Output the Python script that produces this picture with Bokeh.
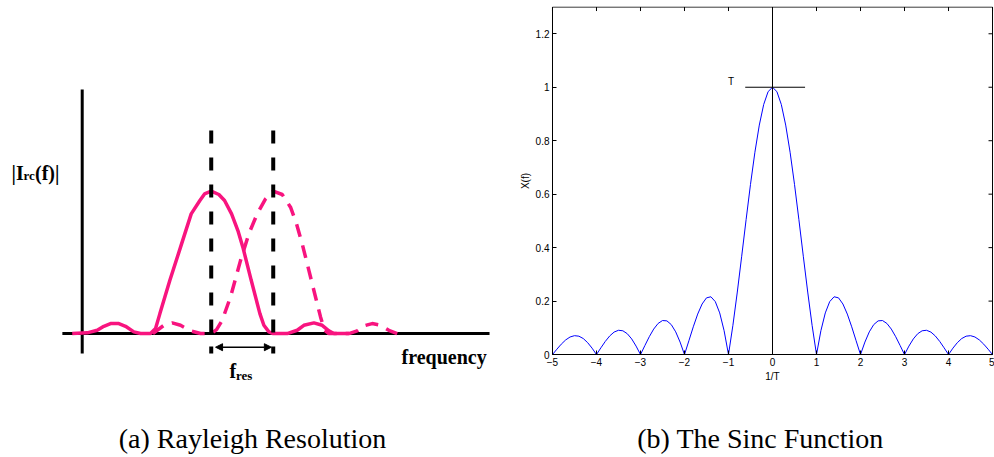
import numpy as np
from bokeh.plotting import figure
from bokeh.layouts import row
from bokeh.models import Range1d, Label, Arrow, NormalHead, FixedTicker
from bokeh.embed import file_html
from bokeh.resources import INLINE

# ---------------- data: (a) Rayleigh resolution sketch ----------------
# frequency in units of the resolution f_res, amplitude normalised to the peak
solid_f = [-0.161, 0.081, 0.242, 0.349, 0.457, 0.591, 0.699, 0.833, 0.941, 1.102,
           1.183, 1.253, 1.414, 1.586, 1.758, 1.898, 1.973, 2.081, 2.204, 2.296,
           2.409, 2.511, 2.591, 2.726, 2.866, 2.930, 3.011, 3.081, 3.306, 3.468,
           3.575, 3.737, 3.871, 3.978, 4.059, 4.301]
solid_a = [0.0, 0.005, 0.023, 0.051, 0.070, 0.070, 0.051, 0.012, 0.0, 0.0,
           0.035, 0.140, 0.374, 0.607, 0.841, 0.935, 0.981, 1.0, 0.977, 0.935,
           0.841, 0.724, 0.607, 0.374, 0.140, 0.058, 0.012, 0.0, 0.0, 0.023,
           0.058, 0.075, 0.058, 0.019, 0.0, 0.0]
dashed_f = [1.14, 1.21, 1.317, 1.452, 1.586, 1.747, 1.909, 2.081, 2.167, 2.258,
            2.392, 2.554, 2.688, 2.823, 2.957, 3.081, 3.226, 3.360, 3.457, 3.548,
            3.656, 3.763, 3.844, 3.909, 3.978, 4.301, 4.435, 4.543, 4.677, 4.812,
            4.946, 5.081]
dashed_a = [0.0, 0.023, 0.058, 0.075, 0.058, 0.019, 0.0, 0.0, 0.028, 0.093,
            0.257, 0.514, 0.701, 0.841, 0.946, 1.0, 0.977, 0.888, 0.771, 0.631,
            0.444, 0.257, 0.117, 0.023, 0.0, 0.0, 0.019, 0.054, 0.070, 0.058,
            0.023, 0.0]

# ---------------- data: (b) sinc function ----------------
sinc_f = [round(v, 1) for v in np.arange(-50, 51) / 10]
sinc_x = [0.0, 0.0201, 0.0390, 0.0548, 0.0658, 0.0707, 0.0688, 0.0599, 0.0445, 0.0240,
          0.0, 0.0252, 0.0492, 0.0696, 0.0841, 0.0909, 0.0890, 0.0780, 0.0585, 0.0317,
          0.0, 0.0339, 0.0668, 0.0954, 0.1164, 0.1273, 0.1261, 0.1120, 0.0850, 0.0468,
          0.0, 0.0518, 0.1039, 0.1515, 0.1892, 0.2122, 0.2162, 0.1981, 0.1559, 0.0894,
          0.0, 0.1093, 0.2339, 0.3679, 0.5046, 0.6366, 0.7568, 0.8584, 0.9355, 0.9836,
          1.0,
          0.9836, 0.9355, 0.8584, 0.7568, 0.6366, 0.5046, 0.3679, 0.2339, 0.1093, 0.0,
          0.0894, 0.1559, 0.1981, 0.2162, 0.2122, 0.1892, 0.1515, 0.1039, 0.0518, 0.0,
          0.0468, 0.0850, 0.1120, 0.1261, 0.1273, 0.1164, 0.0954, 0.0668, 0.0339, 0.0,
          0.0317, 0.0585, 0.0780, 0.0890, 0.0909, 0.0841, 0.0696, 0.0492, 0.0252, 0.0,
          0.0240, 0.0445, 0.0599, 0.0688, 0.0707, 0.0658, 0.0548, 0.0390, 0.0201, 0.0]
x_ticks = [-5, -4, -3, -2, -1, 0, 1, 2, 3, 4, 5]
x_tick_labels = ["\u22125", "\u22124", "\u22123", "\u22122", "\u22121", "0", "1", "2", "3", "4", "5"]
y_ticks = [0, 0.2, 0.4, 0.6, 0.8, 1.0, 1.2]
y_tick_labels = ["0", "0.2", "0.4", "0.6", "0.8", "1", "1.2"]
x_lim = [-5, 5]
y_lim = [0, 1.3]
t_marker_f = [-0.62, 0.74]   # horizontal "T" marker at height 1
t_marker_level = 1.0

PINK = "#F8147F"
SERIF = "Liberation Serif"
SANS = "Liberation Sans"


def lab(fig, text, x, y, size, style="bold", align="left", font=SERIF):
    fig.add_layout(Label(x=x, y=y, x_units="screen", y_units="screen", text=text,
                         text_font=font, text_font_size=size, text_font_style=style,
                         text_align=align, text_baseline="alphabetic", text_color="black"))


# ================= left panel =================
left = figure(width=517, height=457, output_backend="svg", toolbar_location=None,
              x_range=Range1d(-1.318, 7.021), y_range=Range1d(-0.871, 2.298),
              min_border_left=0, min_border_right=0, min_border_top=6, min_border_bottom=0,
              outline_line_color=None)
left.axis.visible = False
left.grid.visible = False

left.line([0, 0], [-0.141, 1.715], line_color="black", line_width=3)
left.line([-0.32, 6.57], [0, 0], line_color="black", line_width=3)

left.line(solid_f, solid_a, line_color=PINK, line_width=3.5)
left.line(dashed_f, dashed_a, line_color=PINK, line_width=3.5, line_dash="13 9")

pk1 = solid_f[int(np.argmax(solid_a))]
pk2 = dashed_f[int(np.argmax(dashed_a))]
for pk in (pk1, pk2):
    left.line([pk, pk], [1.427, -0.141], line_color="black", line_width=4, line_dash="13 14")

left.add_layout(Arrow(x_start=pk1 + 0.07, x_end=pk2 - 0.03, y_start=-0.096, y_end=-0.096,
                      line_color="black", line_width=1.5,
                      start=NormalHead(size=7, fill_color="black", line_color="black"),
                      end=NormalHead(size=7, fill_color="black", line_color="black")))

lab(left, "|I", 11, 285, "20px")
lab(left, "rc", 23, 282, "13px")
lab(left, "(f)|", 34.5, 285, "20px")
lab(left, "frequency", 401, 101, "20px")
lab(left, "f", 229, 87, "20px")
lab(left, "res", 235.5, 82, "13px")
lab(left, "(a) Rayleigh Resolution", 252, 19, "28px", style="normal", align="center")

# ================= right panel =================
# frame covers the whole panel; both axes are pinned at the box edges
right = figure(width=477, height=457, output_backend="svg", toolbar_location=None,
               x_range=Range1d(-5.795, 5.045), y_range=Range1d(-0.385, 1.302),
               min_border_left=0, min_border_right=0, min_border_top=6, min_border_bottom=0,
               outline_line_color=None, x_axis_label="1/T", y_axis_label="X(f)")
right.grid.visible = False

for ax in right.xaxis + right.yaxis:
    ax.major_tick_in = 4
    ax.major_tick_out = 0
    ax.minor_tick_line_color = None
    ax.axis_line_color = "black"
    ax.major_tick_line_color = "black"
    ax.major_label_text_font = SANS
    ax.major_label_text_font_size = "10px"
    ax.major_label_text_color = "black"
    ax.axis_label_text_font = SANS
    ax.axis_label_text_font_size = "10px"
    ax.axis_label_text_font_style = "normal"
    ax.axis_label_text_color = "black"
    ax.major_label_standoff = 3
    ax.axis_label_standoff = 2
right.xaxis.ticker = FixedTicker(ticks=x_ticks)
right.xaxis.major_label_overrides = dict(zip(x_ticks, x_tick_labels))
right.xaxis.fixed_location = y_lim[0]
right.xaxis.bounds = tuple(x_lim)
right.yaxis.ticker = FixedTicker(ticks=y_ticks)
right.yaxis.major_label_overrides = dict(zip(y_ticks, y_tick_labels))
right.yaxis.fixed_location = x_lim[0]
right.yaxis.bounds = tuple(y_lim)

# top and right edges of the box, with inward ticks
right.line([x_lim[0], x_lim[1]], [y_lim[1], y_lim[1]], line_color="black", line_width=1)
right.line([x_lim[1], x_lim[1]], [y_lim[0], y_lim[1]], line_color="black", line_width=1)
tick_dy = 4 / 267.3
tick_dx = 4 / 44.0
right.segment(x0=x_ticks, y0=[y_lim[1]] * len(x_ticks), x1=x_ticks,
              y1=[y_lim[1] - tick_dy] * len(x_ticks), line_color="black", line_width=1)
right.segment(x0=[x_lim[1]] * len(y_ticks), y0=y_ticks, x1=[x_lim[1] - tick_dx] * len(y_ticks),
              y1=y_ticks, line_color="black", line_width=1)

right.line(sinc_f, sinc_x, line_color="blue", line_width=1)
right.line([0, 0], [y_lim[0], y_lim[1]], line_color="black", line_width=1)
right.line(t_marker_f, [t_marker_level, t_marker_level], line_color="black", line_width=1)
right.add_layout(Label(x=-0.94, y=1.02, text="T", text_font=SANS, text_font_size="10px",
                       text_align="center", text_baseline="alphabetic", text_color="black"))

lab(right, "(b) The Sinc Function", 243, 19, "28px", style="normal", align="center")

layout = row(left, right)
open("out.html", "w").write(file_html(layout, INLINE))
